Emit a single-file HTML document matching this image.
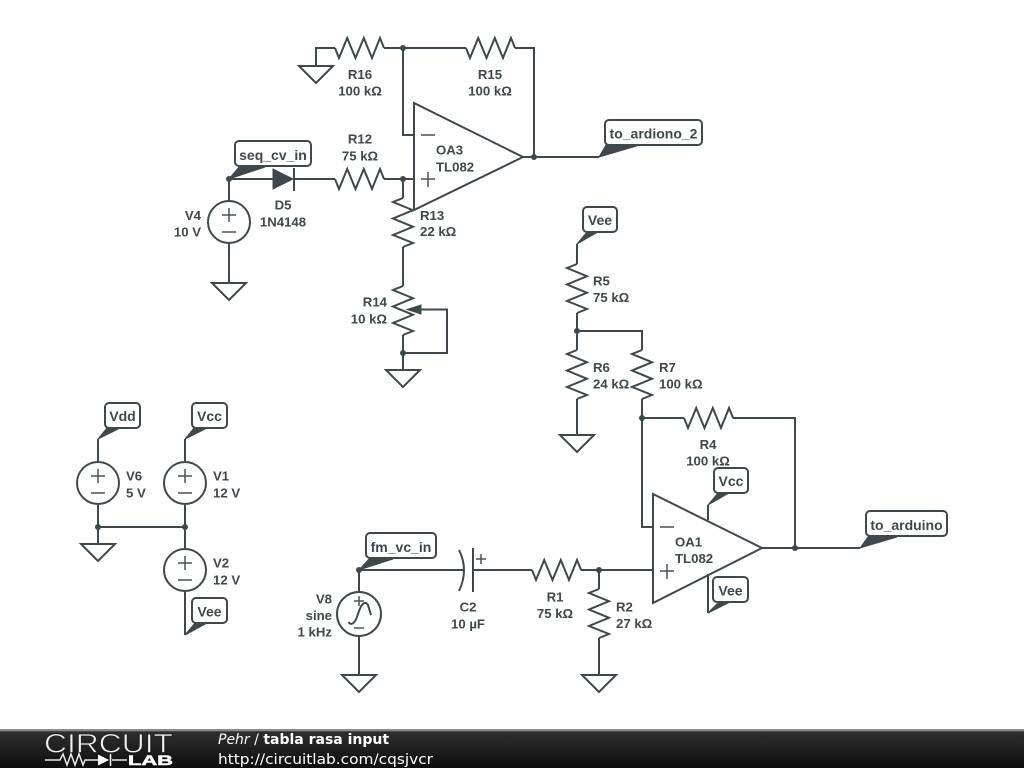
<!DOCTYPE html>
<html><head><meta charset="utf-8"><style>
html,body{margin:0;padding:0;background:#fff;width:1024px;height:768px;overflow:hidden}
svg{display:block;filter:blur(0.35px)}
.w{fill:none;stroke:#3f484c;stroke-width:2;stroke-linejoin:miter}
.s{fill:none;stroke:#4a5357;stroke-width:1.5}
.f{fill:#3f484c;stroke:#3f484c;stroke-width:1}
.j{fill:#3f484c}
.g{fill:#fff;stroke:#3f484c;stroke-width:2}
.b{fill:#fff;stroke:#3f484c;stroke-width:2}
text{font-family:"Liberation Sans",sans-serif;font-weight:bold;font-size:13.2px;fill:#3f484c}
.m{text-anchor:middle}.e{text-anchor:end}
.t{font-size:14px;text-anchor:middle}
</style></head><body>
<svg width="1024" height="768" viewBox="0 0 1024 768" xmlns="http://www.w3.org/2000/svg">
<defs>
<path id="r" class="w" d="M0 0L4 10L12.2 -10L20.5 10L28.8 -10L37 10L45 -10L49 0"/>
<linearGradient id="bar" x1="0" y1="0" x2="0" y2="1"><stop offset="0" stop-color="#8a8a8a"/><stop offset="0.05" stop-color="#8a8a8a"/><stop offset="0.07" stop-color="#2e2e2e"/><stop offset="1" stop-color="#0e0e0e"/></linearGradient>
</defs>
<rect width="1024" height="768" fill="#fff"/>

<!-- wires -->
<path class="w" d="M316 66V48H335M384 48H466M515 48H534V157M403 48V135H414M523 157H599"/>
<path class="w" d="M229 201V179H273M294 179H335M384 179H414M403 179V198M403 247V286M403 335V370M421 309.500H447V353H403M229 243V283"/>
<path class="w" d="M577 244V264M577 313V350M577 331H642V350M577 399V435M642 399V527H653M642 418H684M733 418H795V548M762 548H860"/>
<path class="w" d="M708 520V505M708 574V613"/>
<path class="w" d="M359 592V570H464M473 570H532M581 570H653M599 570V589M599 638V675M359 636V675"/>
<path class="w" d="M98 439V461M98 505V544M98 527H185M185 439V461M185 505V548M185 592V635"/>

<!-- resistors -->
<use href="#r" x="335" y="48"/>
<use href="#r" x="466" y="48"/>
<use href="#r" x="335" y="179"/>
<use href="#r" transform="translate(403 198) rotate(90)"/>
<use href="#r" transform="translate(403 286) rotate(90)"/>
<use href="#r" transform="translate(577 264) rotate(90)"/>
<use href="#r" transform="translate(577 350) rotate(90)"/>
<use href="#r" transform="translate(642 350) rotate(90)"/>
<use href="#r" x="684" y="418"/>
<use href="#r" x="532" y="570"/>
<use href="#r" transform="translate(599 589) rotate(90)"/>

<!-- potentiometer wiper -->
<path class="f" d="M421 305V314L407 309.500Z"/>

<!-- diode -->
<path class="f" d="M273 169V189L293 179Z"/>
<path class="w" d="M294 168V191"/>

<!-- capacitor -->
<path class="w" d="M459 550Q469 570 459 591M473 548V592"/>
<path class="s" d="M476 559H486M481 554V564"/>

<!-- op amps -->
<path class="w" d="M414 103V210L523 157Z"/>
<path class="s" d="M421 135H435M421 179H435M428 172V187"/>
<path class="w" d="M653 494V603L762 548Z"/>
<path class="s" d="M660 527H674M660 571H674M667 564V579"/>

<!-- sources -->
<g class="w">
<circle cx="229" cy="222" r="21"/>
<circle cx="98" cy="483" r="21"/>
<circle cx="185" cy="483" r="21"/>
<circle cx="185" cy="570" r="21"/>
<circle cx="359" cy="614" r="22"/>
<path d="M348.500 622C351 626 355 624 358 614C361 604 365 600 368 605L371 615"/>
</g>
<path class="s" d="M222 215H236M229 208V222M222 232H236M91 476H105M98 469V483M91 493H105M178 476H192M185 469V483M178 493H192M178 563H192M185 556V570M178 580H192M354 601H364M359 596V606M354 628H364"/>

<!-- grounds -->
<path class="g" d="M299 66H333L316 83Z"/>
<path class="g" d="M212 283H246L229 300Z"/>
<path class="g" d="M386 370H420L403 387Z"/>
<path class="g" d="M560 435H594L577 452Z"/>
<path class="g" d="M81 544H115L98 561Z"/>
<path class="g" d="M342 675H376L359 692Z"/>
<path class="g" d="M582 675H616L599 692Z"/>

<!-- junctions -->
<g class="j">
<circle cx="403" cy="48" r="3"/><circle cx="534" cy="157" r="3"/><circle cx="403" cy="179" r="3"/>
<circle cx="229" cy="179" r="3"/><circle cx="403" cy="353" r="3"/><circle cx="577" cy="331" r="3"/>
<circle cx="642" cy="418" r="3"/><circle cx="795" cy="548" r="3"/><circle cx="599" cy="570" r="3"/>
<circle cx="359" cy="570" r="3"/><circle cx="98" cy="527" r="3"/><circle cx="185" cy="527" r="3"/>
</g>

<!-- tags -->
<path class="f" d="M229 179L239 167H265Z"/>
<rect class="b" x="235" y="141" width="76" height="25" rx="4"/>
<text class="t" x="273" y="160">seq_cv_in</text>

<path class="f" d="M599 157L606 145H640Z"/>
<rect class="b" x="605" y="120" width="97" height="25" rx="4"/>
<text class="t" x="653.500" y="138.500">to_ardiono_2</text>

<path class="f" d="M577 244L587 232H598Z"/>
<rect class="b" x="583" y="207" width="34" height="25" rx="4"/>
<text class="t" x="600" y="225">Vee</text>

<path class="f" d="M860 548L868 537H897Z"/>
<rect class="b" x="866" y="511" width="81" height="25" rx="4"/>
<text class="t" x="906.500" y="530">to_arduino</text>

<path class="f" d="M708 505L718 493H729Z"/>
<rect class="b" x="714" y="468" width="34" height="25" rx="4"/>
<text class="t" x="731" y="486">Vcc</text>

<path class="f" d="M708 613L719 602H730Z"/>
<rect class="b" x="713" y="577" width="35" height="25" rx="4"/>
<text class="t" x="730.500" y="595.500">Vee</text>

<path class="f" d="M98 439L107 428H120Z"/>
<rect class="b" x="105" y="403" width="35" height="25" rx="4"/>
<text class="t" x="122.500" y="421">Vdd</text>

<path class="f" d="M185 439L194 428H207Z"/>
<rect class="b" x="192" y="403" width="35" height="25" rx="4"/>
<text class="t" x="209.500" y="421">Vcc</text>

<path class="f" d="M185 635L195 623H207Z"/>
<rect class="b" x="192" y="598" width="35" height="25" rx="4"/>
<text class="t" x="209.500" y="616.500">Vee</text>

<path class="f" d="M359 570L369 559H393Z"/>
<rect class="b" x="366" y="533" width="70" height="25" rx="4"/>
<text class="t" x="401" y="552">fm_vc_in</text>

<!-- labels -->
<text class="m" x="360" y="79">R16</text><text class="m" x="360" y="95.500">100 kΩ</text>
<text class="m" x="490" y="79">R15</text><text class="m" x="490" y="95.500">100 kΩ</text>
<text class="m" x="360" y="143.500">R12</text><text class="m" x="360" y="160.500">75 kΩ</text>
<text class="m" x="283" y="209.500">D5</text><text class="m" x="283" y="226.500">1N4148</text>
<text x="420" y="220">R13</text><text x="420" y="236">22 kΩ</text>
<text x="436" y="154.500">OA3</text><text x="436" y="171.500">TL082</text>
<text class="e" x="201" y="220">V4</text><text class="e" x="201" y="236.500">10 V</text>
<text class="e" x="387" y="306.500">R14</text><text class="e" x="387" y="323.500">10 kΩ</text>
<text x="593" y="285.500">R5</text><text x="593" y="302">75 kΩ</text>
<text x="593" y="372">R6</text><text x="593" y="388.500">24 kΩ</text>
<text x="659" y="372">R7</text><text x="659" y="388.500">100 kΩ</text>
<text class="m" x="708" y="449">R4</text><text class="m" x="708" y="465.500">100 kΩ</text>
<text x="675" y="546.500">OA1</text><text x="675" y="563">TL082</text>
<text x="126" y="480.500">V6</text><text x="126" y="497.500">5 V</text>
<text x="213" y="480.500">V1</text><text x="213" y="497.500">12 V</text>
<text x="213" y="567.500">V2</text><text x="213" y="584.500">12 V</text>
<text class="e" x="332" y="603.500">V8</text><text class="e" x="332" y="620">sine</text><text class="e" x="332" y="636.500">1 kHz</text>
<text class="m" x="468" y="611.500">C2</text><text class="m" x="468" y="628.500">10 µF</text>
<text class="m" x="555" y="601.500">R1</text><text class="m" x="555" y="618">75 kΩ</text>
<text x="616" y="611.500">R2</text><text x="616" y="628">27 kΩ</text>

<!-- footer -->
<rect x="0" y="729" width="1024" height="39" fill="url(#bar)"/>
<text x="44" y="752.500" textLength="129" lengthAdjust="spacingAndGlyphs" style="font-family:'Liberation Sans',sans-serif;font-weight:normal;font-size:27px;fill:#f0f0f0;stroke:#222;stroke-width:0.7px">CIRCUIT</text>
<path d="M45 760H60L63 754L67 765L71 754L75 765L79 754L83 765L85 760H98M112 760H127" fill="none" stroke="#e8e8e8" stroke-width="1.500"/>
<path d="M98 754.500V765.500L109 760Z" fill="#fff"/><path d="M110.500 754V766" stroke="#fff" stroke-width="1.500"/>
<text x="128" y="765" textLength="45" lengthAdjust="spacingAndGlyphs" style="font-size:13.500px;fill:#fff;stroke:#fff;stroke-width:0.5px">LAB</text>
<text x="218" y="744" style="font-family:'DejaVu Sans',sans-serif;font-size:14px;font-weight:normal;fill:#fff"><tspan font-style="italic">Pehr</tspan> / <tspan font-weight="bold">tabla rasa input</tspan></text>
<text x="218" y="764" style="font-family:'DejaVu Sans',sans-serif;font-size:14.500px;font-weight:normal;fill:#fff" textLength="215" lengthAdjust="spacingAndGlyphs">http://circuitlab.com/cqsjvcr</text>
</svg>
</body></html>
